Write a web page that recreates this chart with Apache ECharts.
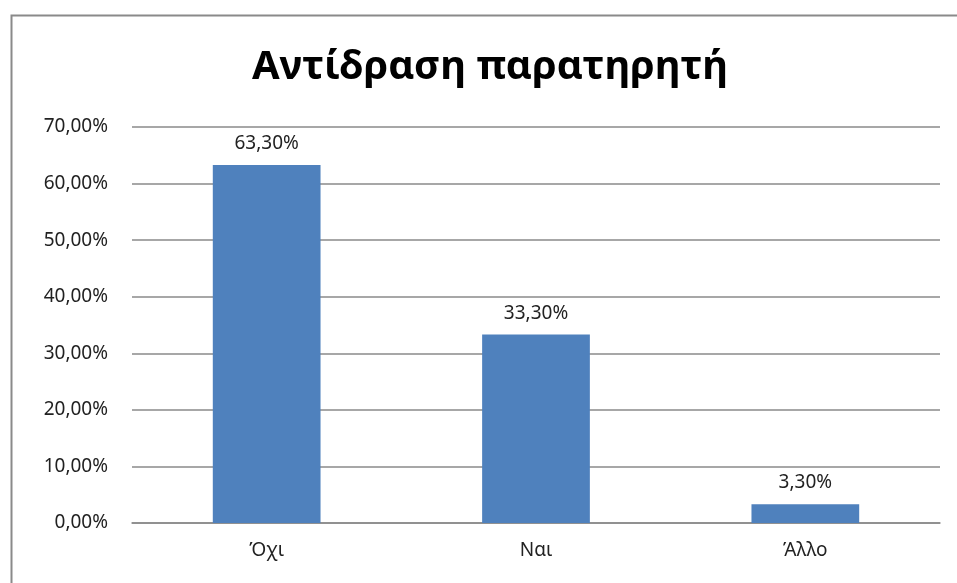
<!DOCTYPE html>
<html>
<head>
<meta charset="utf-8">
<script src="https://cdn.jsdelivr.net/npm/echarts@6/dist/echarts.min.js"></script>
<style>
html,body{margin:0;padding:0;background:#fff;}
#chart{width:957px;height:583px;}
</style>
</head>
<body>
<div id="chart"></div>
<script>
const titleText = 'Αντίδραση παρατηρητή';
const categories = ['Όχι', 'Ναι', 'Άλλο'];
const values = [63.3, 33.3, 3.3];
const yMin = 0, yMax = 70, yStep = 10;

function fmt(v) { return v.toFixed(2).replace('.', ',') + '%'; }

const chart = echarts.init(document.getElementById('chart'));
chart.setOption({
  backgroundColor: '#fff',
  animation: false,
  title: {
    text: titleText,
    left: 485, top: 43, textAlign: 'center',
    textStyle: { fontFamily: 'Noto Sans', fontWeight: 'bold', fontSize: 40, color: '#000' }
  },
  graphic: [{
    type: 'rect', left: 9, top: 13, shape: { width: 1000, height: 640 },
    style: { fill: 'none', stroke: '#8a8a8a', lineWidth: 2 }, silent: true
  }],
  grid: { left: 132, right: 17, top: 127, bottom: 60, containLabel: false },
  xAxis: {
    type: 'category', data: categories,
    axisTick: { show: false },
    axisLine: { lineStyle: { color: '#8a8a8a', width: 1.5 } },
    axisLabel: { fontFamily: 'Noto Sans', fontSize: 19, color: '#222', margin: 18 }
  },
  yAxis: {
    type: 'value', min: yMin, max: yMax, interval: yStep,
    axisLine: { show: false }, axisTick: { show: false },
    splitLine: { lineStyle: { color: '#8a8a8a', width: 1.5 } },
    axisLabel: { formatter: fmt, fontFamily: 'Noto Sans', fontSize: 19, color: '#222', margin: 24 }
  },
  series: [{
    type: 'bar', data: values, barWidth: '40%',
    itemStyle: { color: '#4f81bd' },
    label: { show: true, position: 'top', formatter: p => fmt(p.value), fontFamily: 'Noto Sans', fontSize: 19, color: '#222', distance: 12 }
  }]
});
</script>
</body>
</html>
